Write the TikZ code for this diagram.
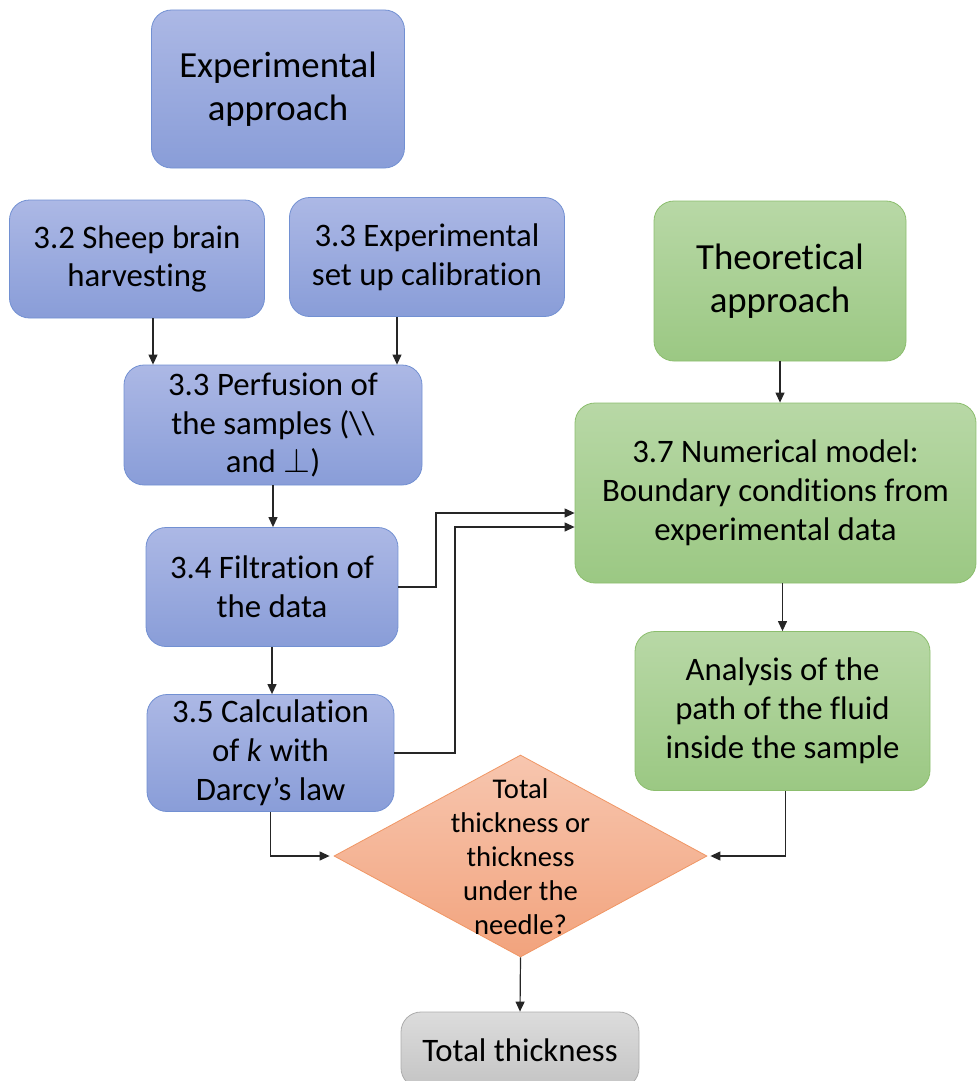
\documentclass[tikz,border=0pt]{standalone}
\usepackage{fontspec}
\setmainfont{Carlito}[Ligatures={TeX,NoCommon}]
\usetikzlibrary{shapes.geometric, arrows.meta}
\definecolor{BlueTop}{RGB}{172,184,229}
\definecolor{BlueBottom}{RGB}{137,157,216}
\definecolor{BlueLine}{RGB}{114,144,210}
\definecolor{GreenTop}{RGB}{184,216,166}
\definecolor{GreenBottom}{RGB}{155,200,131}
\definecolor{GreenLine}{RGB}{140,190,110}
\definecolor{OrangeTop}{RGB}{247,198,175}
\definecolor{OrangeBottom}{RGB}{242,163,125}
\definecolor{OrangeLine}{RGB}{240,150,100}
\definecolor{GreyTop}{RGB}{220,220,220}
\definecolor{GreyBottom}{RGB}{196,196,196}
\definecolor{GreyLine}{RGB}{172,172,172}
\newcommand{\Radius}{10pt}
\newcommand{\BoxFont}{\fontsize{16.4}{19.4}\selectfont}
\newcommand{\BigFont}{\fontsize{18.4}{21.5}\selectfont}
\tikzset{BlueSquare/.style={
    inner sep=2pt,
    rounded corners=\Radius,
    draw=BlueLine,
    top color=BlueTop,
    bottom color=BlueBottom,
    font=\BoxFont,
    align=center
    }
}
\tikzset{GreenSquare/.style={
    inner sep=2pt,
    rounded corners=\Radius,
    draw=GreenLine,
    top color=GreenTop,
    bottom color=GreenBottom,
    font=\BoxFont,
    align=center
    }
}
\tikzset{GreySquare/.style={
    inner sep=2pt,
    rounded corners=\Radius,
    draw=GreyLine,
    top color=GreyTop,
    bottom color=GreyBottom,
    font=\BoxFont,
    align=center
    }
}
\tikzset{OrangeDiamond/.style={
    diamond,
    inner sep=0pt,
    draw=OrangeLine,
    top color=OrangeTop,
    bottom color=OrangeBottom
    }
}
\tikzset{Link/.style={
    draw=black!85,
    line width=0.6pt,
    >={Triangle[length=5pt,width=4.5pt]}
    }
}

\begin{document}
\begin{tikzpicture}[x=0.5pt, y=-0.5pt]
    \useasboundingbox (0,0) rectangle (976,1081);

    \node (Exp) [BlueSquare, font=\BigFont, minimum width=126.5pt, minimum height=79pt] at (278,89) {Experimental\\approach};

    \node (Sheep) [BlueSquare, minimum width=127.5pt, minimum height=59pt] at (137,259) {3.2 Sheep brain\\harvesting};

    \node (Calib) [BlueSquare, minimum width=137.5pt, minimum height=59.5pt] at (427,257) {3.3 Experimental\\set up calibration};

    \node (Theo) [GreenSquare, font=\BigFont, minimum width=126pt, minimum height=80pt] at (780,281) {Theoretical\\approach};

    \node (Perf) [BlueSquare, minimum width=149pt, minimum height=60pt] at (273,425) {3.3 Perfusion of\\the samples (\textbackslash\textbackslash\\and $\perp$)};

    \node (Num) [GreenSquare, minimum width=200.5pt, minimum height=90pt] at (775.5,493) {3.7 Numerical model:\\Boundary conditions from\\experimental data};

    \node (Filt) [BlueSquare, minimum width=126pt, minimum height=59.5pt] at (272,587) {3.4 Filtration of\\the data};

    \node (Path) [GreenSquare, minimum width=147.5pt, minimum height=79.5pt] at (782.5,711) {Analysis of the\\path of the fluid\\inside the sample};

    \node (Calc) [BlueSquare, minimum width=123.5pt, minimum height=58.5pt] at (270.5,753) {3.5 Calculation\\of \textit{k} with\\Darcy’s law};

    \node (Choice) [OrangeDiamond, minimum width=186.5pt, minimum height=101pt] at (520.5,856) {};
    \node (ChoiceText) [align=center, font=\fontsize{14.3}{17}\selectfont] at (520.5,857) {Total\\thickness or\\thickness\\under the\\needle?};

    \node (Total) [GreySquare, minimum width=119pt, minimum height=38pt] at (520,1050) {Total thickness};

    % experimental branch
    \draw [Link, ->] ([xshift=8pt]Sheep.south) -- ([xshift=8pt]Sheep.south |- Perf.north);
    \draw [Link, ->] ([xshift=-15pt]Calib.south) -- ([xshift=-15pt]Calib.south |- Perf.north);
    \draw [Link, ->] (Perf.south) -- (Perf.south |- Filt.north);
    \draw [Link, ->] (Filt.south) -- (Filt.south |- Calc.north);

    % data to the model
    \coordinate (f1) at (436,587);
    \coordinate (f2) at (436,513);
        \draw [Link, ->] (Filt.east) -- (f1) -- (f2) -- (f2 -| Num.west);
    \coordinate (c1) at (455,753);
    \coordinate (c2) at (455,527);
        \draw [Link, ->] (Calc.east) -- (c1) -- (c2) -- (c2 -| Num.west);

    % theoretical branch
    \draw [Link, ->] (Theo.south) -- (Theo.south |- Num.north);
    \draw [Link, ->] (Path.north |- Num.south) -- (Path.north);

    % decision
    \coordinate (d1) at (Calc.south |- Choice.west);
        \draw [Link, ->] (Calc.south) -- (d1) -- ([xshift=-2pt]Choice.west);
    \coordinate (d2) at ([xshift=1.5pt]Path.south |- Choice.east);
        \draw [Link, ->] ([xshift=1.5pt]Path.south) -- (d2) -- ([xshift=1.5pt]Choice.east);
    \draw [Link, ->] (Choice.south) -- (Total.north);
\end{tikzpicture}
\end{document}
